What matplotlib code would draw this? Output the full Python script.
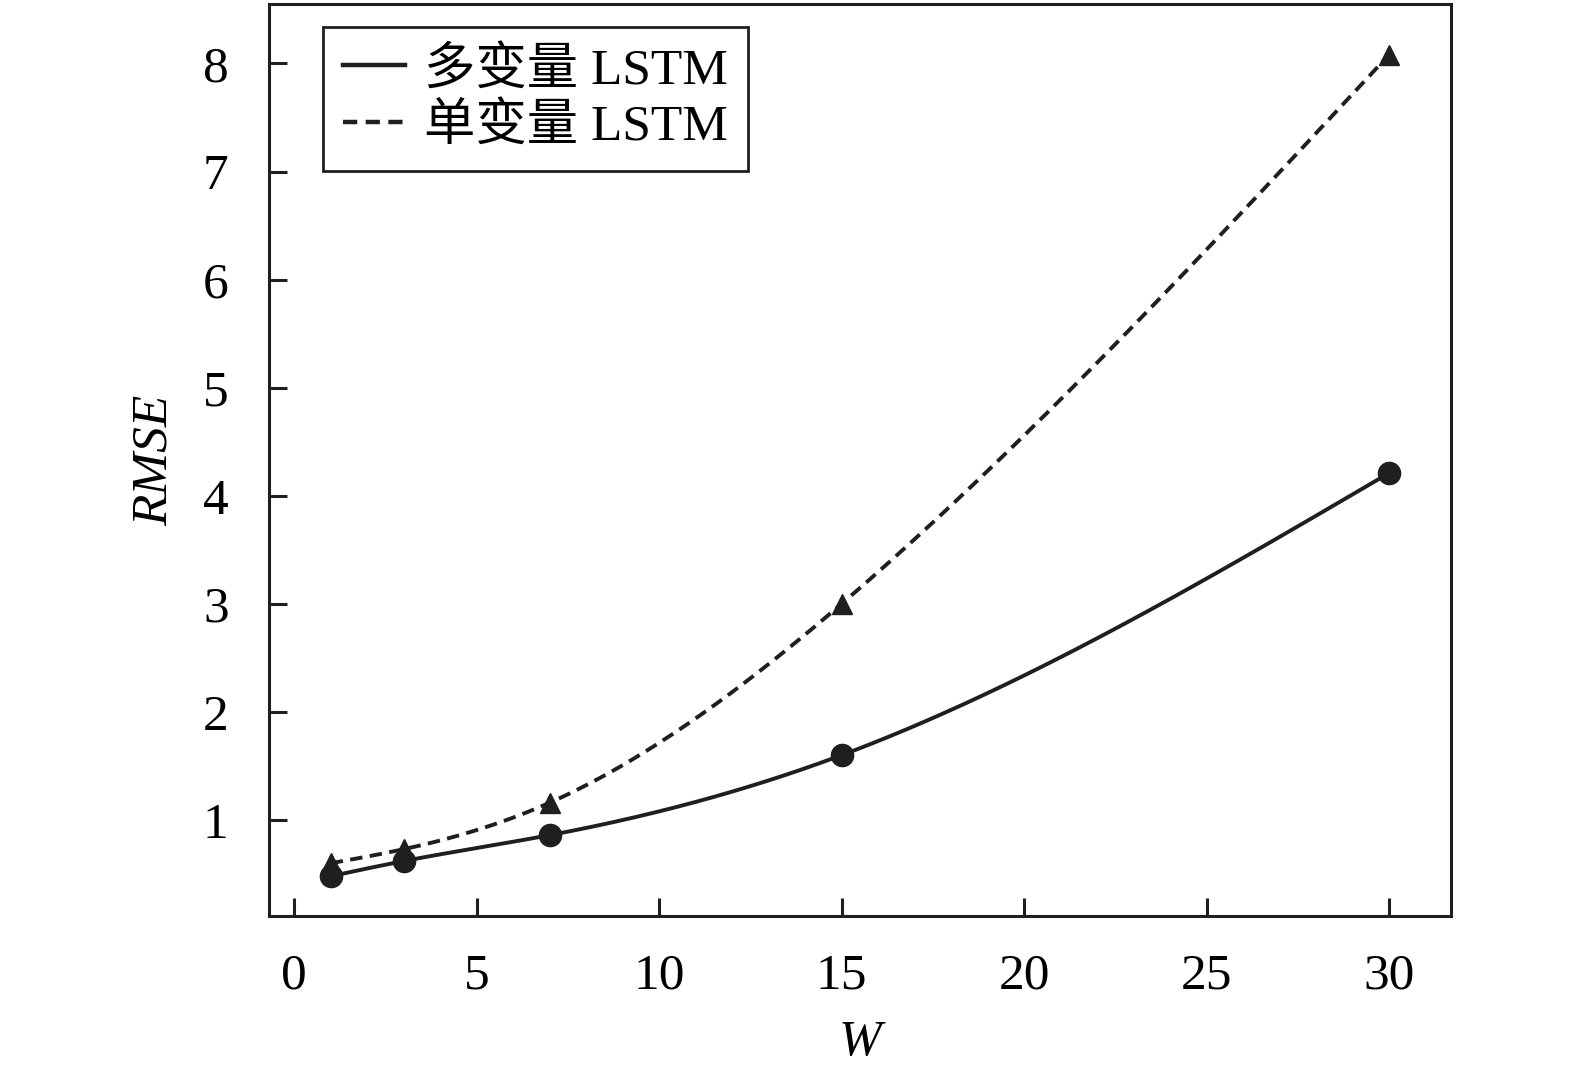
import numpy as np
import matplotlib
matplotlib.use("Agg")
import matplotlib.pyplot as plt

# ---- data ----
window = [1, 3, 7, 15, 30]
rmse_multi = [0.48, 0.62, 0.86, 1.60, 4.21]
rmse_single = [0.60, 0.73, 1.16, 3.00, 8.08]
label_multi = "多变量 LSTM"
label_single = "单变量 LSTM"
xticks = [0, 5, 10, 15, 20, 25, 30]
yticks = [1, 2, 3, 4, 5, 6, 7, 8]
xlabel = "W"
ylabel = "RMSE"

FONT = ["Liberation Serif", "Noto Sans CJK SC", "DejaVu Sans"]
plt.rcParams["font.family"] = FONT


def natural_spline(x, y, n=300):
    """Smooth drawing path through the data points (natural cubic spline)."""
    x = np.asarray(x, float)
    y = np.asarray(y, float)
    k = len(x)
    h = np.diff(x)
    A = np.zeros((k, k))
    b = np.zeros(k)
    A[0, 0] = A[-1, -1] = 1
    for i in range(1, k - 1):
        A[i, i - 1] = h[i - 1]
        A[i, i] = 2 * (h[i - 1] + h[i])
        A[i, i + 1] = h[i]
        b[i] = 6 * ((y[i + 1] - y[i]) / h[i] - (y[i] - y[i - 1]) / h[i - 1])
    M = np.linalg.solve(A, b)
    xs = np.linspace(x[0], x[-1], n)
    idx = np.clip(np.searchsorted(x, xs) - 1, 0, k - 2)
    x0, x1 = x[idx], x[idx + 1]
    hh = x1 - x0
    t0 = x1 - xs
    t1 = xs - x0
    ys = (M[idx] * t0 ** 3 / (6 * hh) + M[idx + 1] * t1 ** 3 / (6 * hh)
          + (y[idx] / hh - M[idx] * hh / 6) * t0
          + (y[idx + 1] / hh - M[idx + 1] * hh / 6) * t1)
    return xs, ys


fig = plt.figure(figsize=(15.75, 10.88), dpi=100)
ax = fig.add_axes([0.1708, 0.1581, 0.7505, 0.8382])

col = "#1f1f1f"
xs, ys = natural_spline(window, rmse_multi)
ax.plot(xs, ys, color=col, lw=2.8, label=label_multi)
xs, ys = natural_spline(window, rmse_single)
ax.plot(xs, ys, color=col, lw=2.8, linestyle=(0, (3.2, 1.9)), label=label_single)

ax.plot(window, rmse_single, linestyle="none", marker="^", ms=15, color=col)
ax.plot(window, rmse_multi, linestyle="none", marker="o", ms=16, color=col)

ax.set_xlim(-0.69, 31.7)
ax.set_ylim(0.112, 8.55)
ax.set_xticks(xticks)
ax.set_yticks(yticks)

for s in ax.spines.values():
    s.set_linewidth(2.2)
    s.set_color(col)

ax.tick_params(axis="both", which="both", direction="in", length=13, width=2.2,
               color=col, labelsize=37, top=False, right=False)
ax.tick_params(axis="x", pad=27)
ax.tick_params(axis="y", pad=29)
for lab in ax.get_xticklabels() + ax.get_yticklabels():
    lab.set_family(FONT)

ax.set_xlabel(xlabel, fontsize=37, style="italic", labelpad=14, family=FONT)
ax.set_ylabel(ylabel, fontsize=37, style="italic", labelpad=18, family=FONT)

leg = ax.legend(loc="upper left", bbox_to_anchor=(0.0457, 0.975), borderaxespad=0,
                fancybox=False, framealpha=1, edgecolor=col,
                prop={"family": FONT, "size": 37}, handlelength=1.22,
                handletextpad=0.37, labelspacing=0.175, borderpad=0.38)
leg.get_frame().set_linewidth(2.0)
for h in leg.get_lines():
    h.set_linewidth(3.2)

fig.savefig("out.png", dpi=100)
